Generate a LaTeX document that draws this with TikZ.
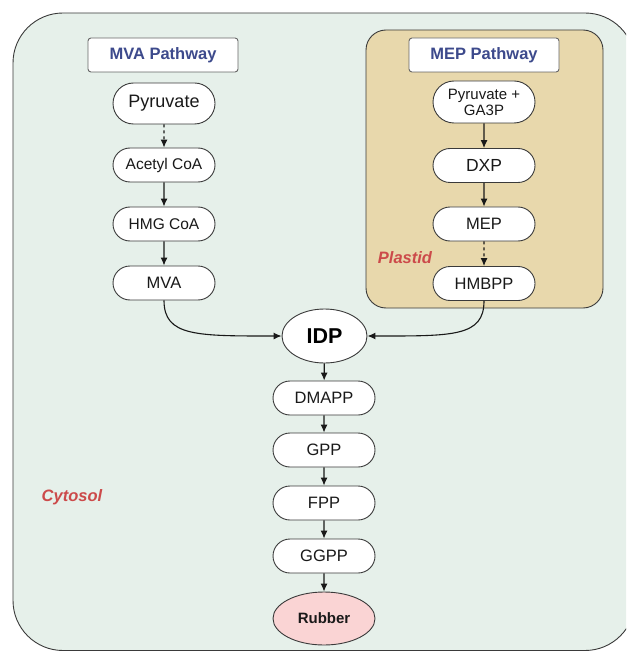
\documentclass[tikz,border=0pt]{standalone}
\usepackage{fontspec}
\setmainfont{Liberation Sans}
\usetikzlibrary{shapes.misc,shapes.geometric,arrows.meta}
\definecolor{cyto}{HTML}{E6F0EA}
\definecolor{plast}{HTML}{E8D8AC}
\definecolor{hdr}{HTML}{3D4A8C}
\definecolor{lblred}{HTML}{CC4A4A}
\definecolor{rubberfill}{HTML}{FAD4D4}
\definecolor{edge}{HTML}{3A3A3A}
\begin{document}
\begin{tikzpicture}[x=1pt,y=-1pt,
  pill/.style={rounded rectangle, draw=edge, fill=white, line width=0.9pt,
    minimum width=102pt, minimum height=34pt, inner sep=0pt,
    font=\fontsize{15.5}{17}\selectfont, text=black!90},
  header/.style={rectangle, rounded corners=3pt, draw=gray!80!black, fill=white,
    line width=0.9pt, minimum width=150pt, minimum height=34pt, inner sep=0pt,
    font=\bfseries\fontsize{16.5}{18}\selectfont, text=hdr},
  region/.style={font=\bfseries\itshape\fontsize{16.5}{18}\selectfont, text=lblred},
  arr/.style={-{Latex[length=8pt,width=7pt]}, line width=1.1pt, draw=black!90}]
\useasboundingbox (0,0) rectangle (626,652);
\clip (0,0) rectangle (626,652);
% cytosol
\draw[fill=cyto, draw=edge, line width=0.9pt, rounded corners=50pt] (13,13) rectangle (635,650.5);
% plastid
\draw[fill=plast, draw=edge, line width=0.9pt, rounded corners=20pt] (366,30) rectangle (603,308);

\node[region] (cytosol) at (72,497) {Cytosol};
\node[region] (plastid) at (405,258) {Plastid};

% MVA
\node[header] (mvah) at (163,55) {MVA Pathway};
\node[pill, minimum height=41pt, font=\fontsize{18}{20}\selectfont] (pyr) at (164,103.5) {Pyruvate};
\node[pill] (acoa) at (164,165) {Acetyl CoA};
\node[pill] (hmg) at (164,224) {HMG CoA};
\node[pill, font=\fontsize{16.5}{18}\selectfont] (mva) at (164,283) {MVA};

% MEP
\node[header] (meph) at (484,55) {MEP Pathway};
\node[pill, minimum height=42pt, align=center, font=\fontsize{15}{16}\selectfont] (pg) at (484,102) {Pyruvate +\\GA3P};
\node[pill, font=\fontsize{17.5}{19}\selectfont] (dxp) at (484,165.5) {DXP};
\node[pill, font=\fontsize{16.5}{18}\selectfont] (mep) at (484,224) {MEP};
\node[pill, font=\fontsize{16.5}{18}\selectfont] (hmbpp) at (484,283.5) {HMBPP};

% central
\node[ellipse, draw=edge, fill=white, line width=0.9pt, minimum width=85pt, minimum height=54pt,
  inner sep=0pt, font=\bfseries\fontsize{21.5}{23}\selectfont] (idp) at (324.5,336) {IDP};
\node[pill, font=\fontsize{16.5}{18}\selectfont] (dmapp) at (324,398) {DMAPP};
\node[pill, font=\fontsize{16.5}{18}\selectfont] (gpp) at (324,450) {GPP};
\node[pill, font=\fontsize{16.5}{18}\selectfont] (fpp) at (324,503) {FPP};
\node[pill, font=\fontsize{16.5}{18}\selectfont] (ggpp) at (324,556) {GGPP};
\node[ellipse, draw=edge, fill=rubberfill, line width=0.9pt, minimum width=102pt, minimum height=53pt,
  inner sep=0pt, font=\bfseries\fontsize{15}{16}\selectfont, text=black!90] (rubber) at (324,618.5) {Rubber};

% arrows
\draw[arr, dashed] (pyr) -- (acoa);
\draw[arr] (acoa) -- (hmg);
\draw[arr] (hmg) -- (mva);
\draw[arr] (pg) -- (dxp);
\draw[arr] (dxp) -- (mep);
\draw[arr, dashed] (mep) -- (hmbpp);
\draw[arr] (mva.south) .. controls +(0,36) and +(-85,0) .. (idp.west);
\draw[arr] (hmbpp.south) .. controls +(0,36) and +(85,0) .. (idp.east);
\draw[arr] (idp) -- (dmapp);
\draw[arr] (dmapp) -- (gpp);
\draw[arr] (gpp) -- (fpp);
\draw[arr] (fpp) -- (ggpp);
\draw[arr] (ggpp) -- (rubber);
\end{tikzpicture}
\end{document}
